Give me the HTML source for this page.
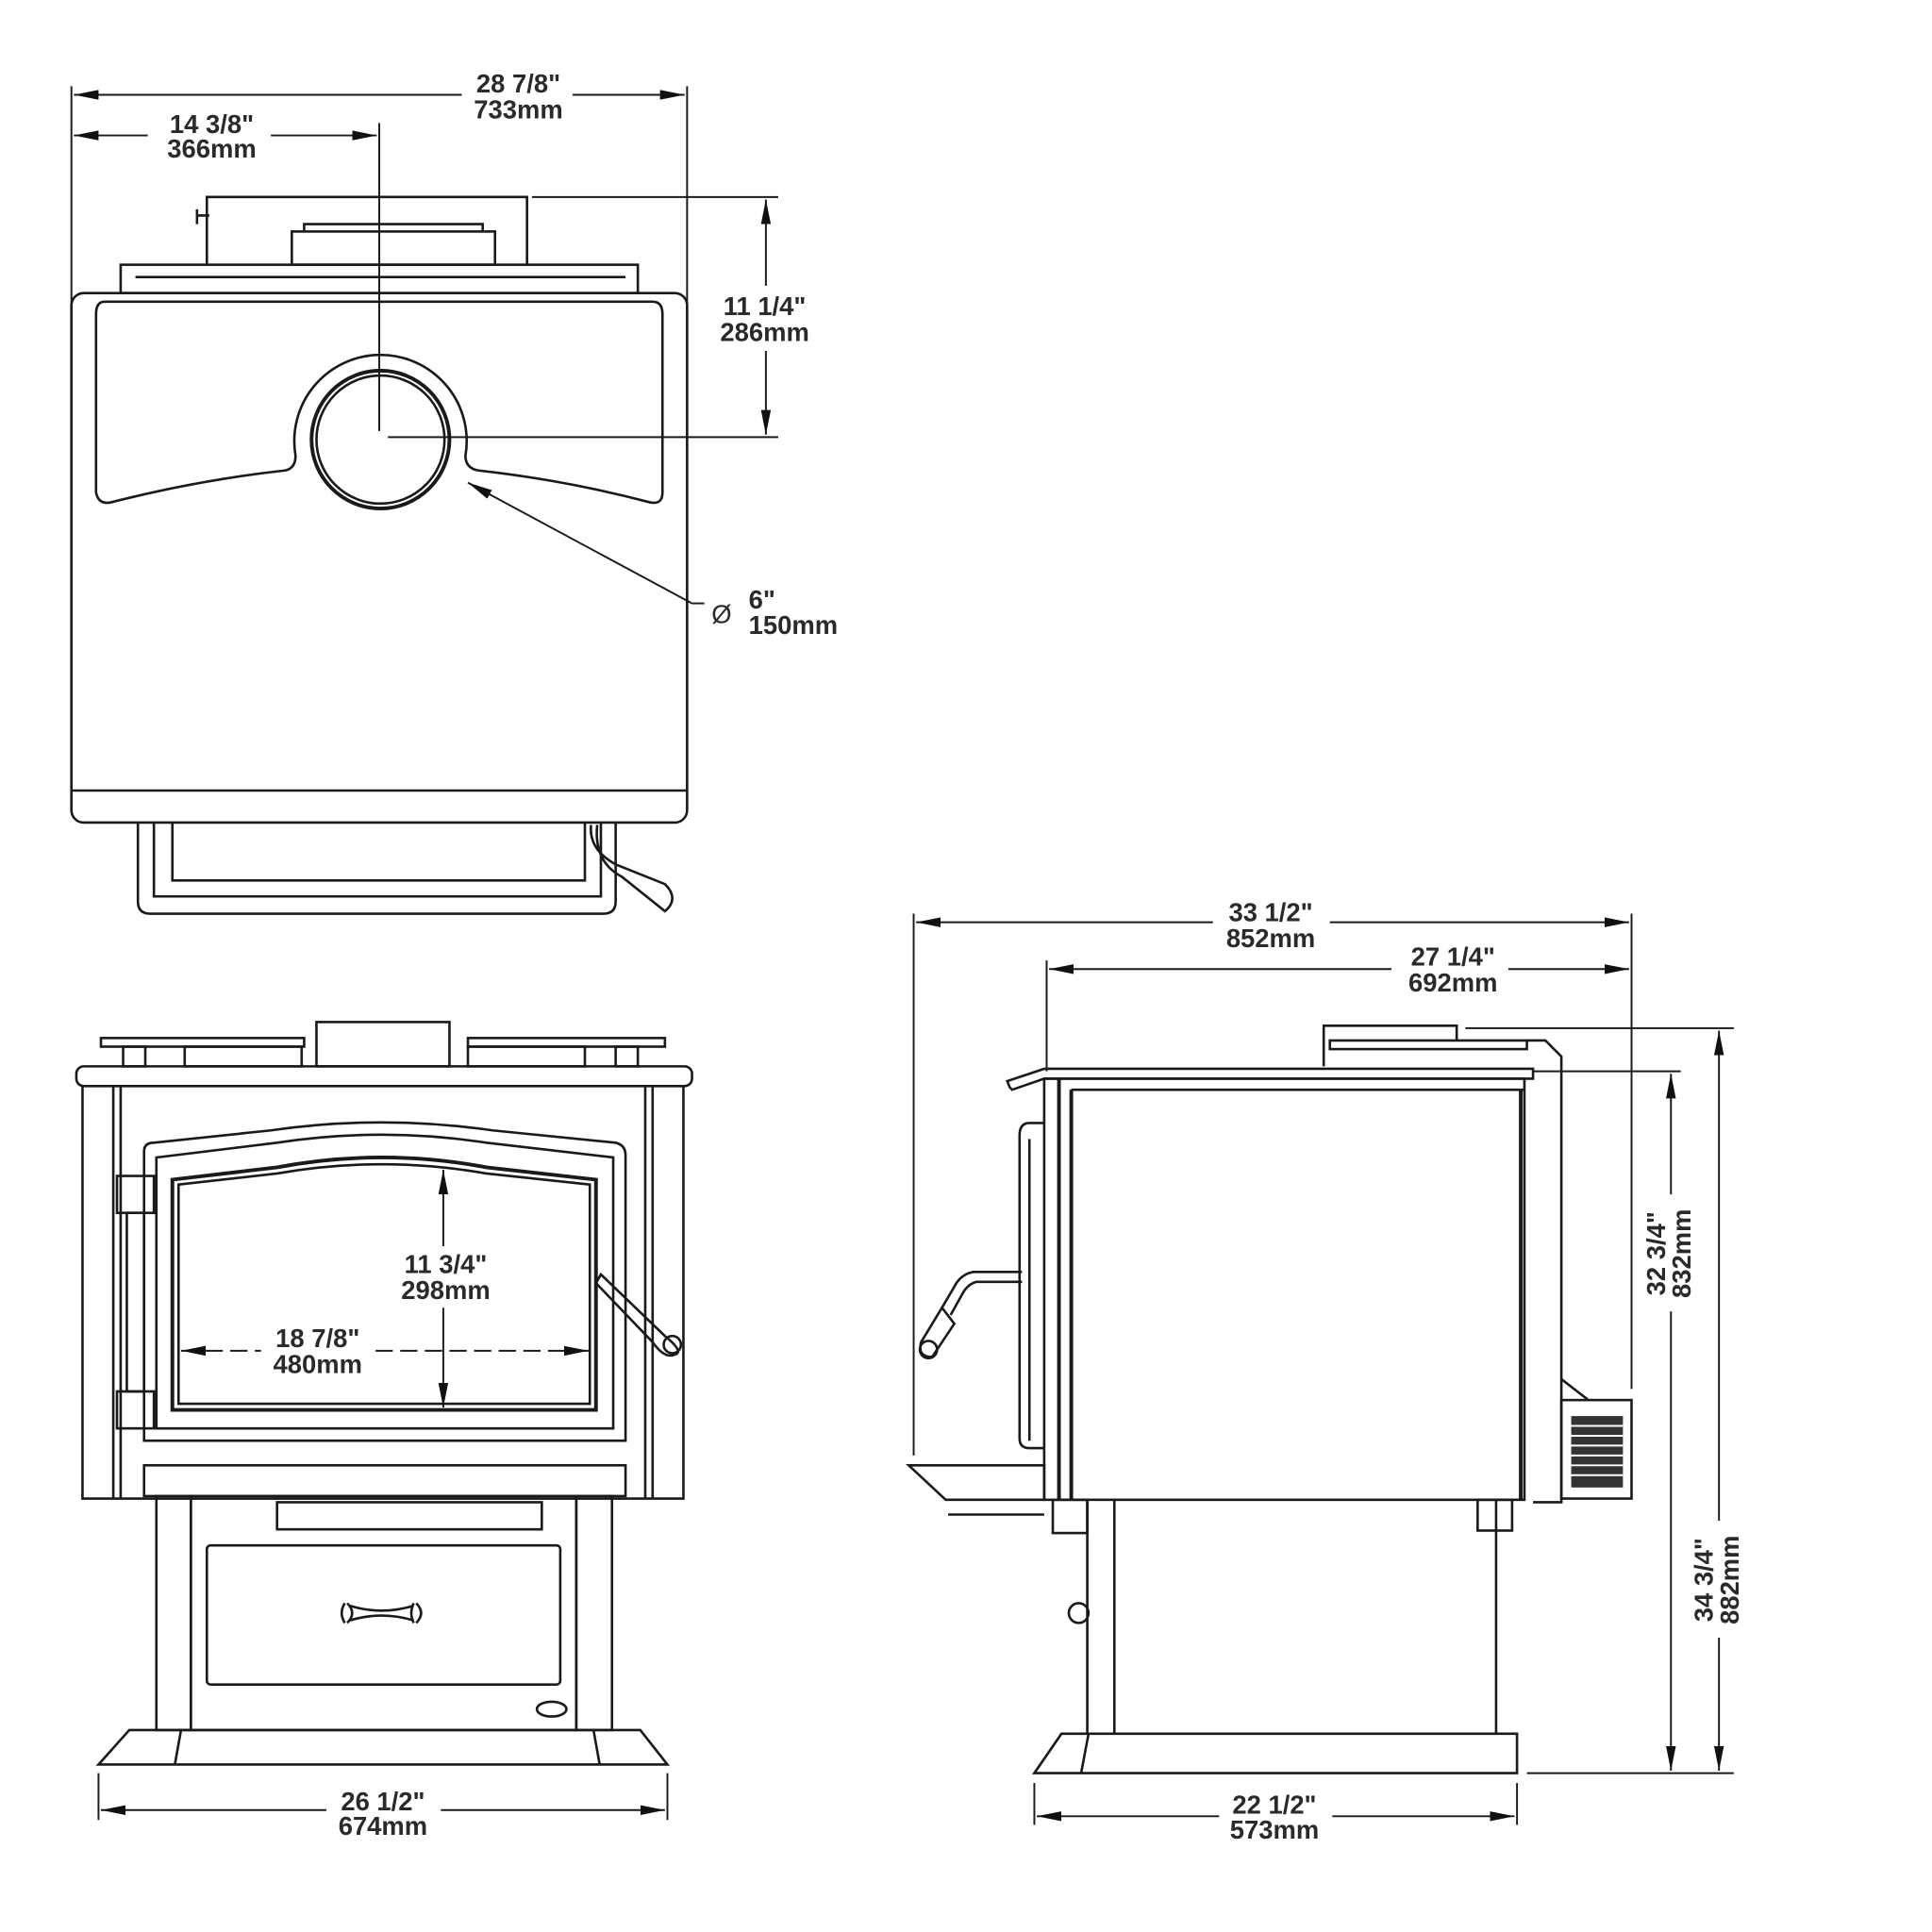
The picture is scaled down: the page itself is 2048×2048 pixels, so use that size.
<!DOCTYPE html>
<html><head><meta charset="utf-8"><style>
html,body{margin:0;padding:0;background:#fff;}
svg{display:block;}
text{font-family:"Liberation Sans",Arial,sans-serif;font-weight:bold;fill:#2a2a2a;font-size:21px;text-anchor:middle;}
</style></head><body>
<svg width="2048" height="2048" viewBox="0 0 1569 1569" xmlns="http://www.w3.org/2000/svg">
<defs>
<marker id="a" viewBox="0 0 20 8" refX="20" refY="4" markerWidth="20" markerHeight="8" markerUnits="userSpaceOnUse" orient="auto-start-reverse"><path d="M0,0 L20,4 L0,8 z" fill="#111"/></marker>
</defs>
<g fill="none" stroke="#1a1a1a" stroke-width="2">
<!-- ===== TOP VIEW ===== -->
<line x1="58" y1="70" x2="58" y2="660" stroke-width="1.5"/>
<line x1="558" y1="70" x2="558" y2="660" stroke-width="1.5"/>
<line x1="60" y1="77" x2="375" y2="77" stroke-width="1.5" marker-start="url(#a)"/>
<line x1="465" y1="77" x2="556" y2="77" stroke-width="1.5" marker-end="url(#a)"/>
<line x1="60" y1="110" x2="120" y2="110" stroke-width="1.5" marker-start="url(#a)"/>
<line x1="220" y1="110" x2="306" y2="110" stroke-width="1.5" marker-end="url(#a)"/>
<line x1="308" y1="100" x2="308" y2="350" stroke-width="1.5"/>
<!-- back parts -->
<path d="M168,215 V160 H428 V215"/>
<path d="M160,175 h10 M160,170 v12"/>
<rect x="237" y="188" width="165" height="27"/>
<path d="M247,188 V182 H392 V188"/>
<rect x="98" y="215" width="420" height="23"/>
<line x1="110" y1="225" x2="508" y2="225"/>
<!-- body -->
<rect x="58" y="238" width="500" height="430" rx="10"/>
<line x1="58" y1="642" x2="558" y2="642"/>
<path d="M85,245 Q78,245 78,255 V400 Q80,410 90,408 Q160,390 232,382 Q240,380 240,370 A70,70 0 1 1 378,370 Q378,380 388,382 Q460,390 528,408 Q538,410 538,400 V255 Q538,245 530,245 Z"/>
<circle cx="309" cy="357" r="56" stroke-width="3"/>
<circle cx="309" cy="357" r="52"/>
<line x1="315" y1="355" x2="632" y2="355" stroke-width="1.5"/>
<line x1="432" y1="160" x2="632" y2="160" stroke-width="1.5"/>
<line x1="622" y1="162" x2="622" y2="232" stroke-width="1.5" marker-start="url(#a)"/>
<line x1="622" y1="285" x2="622" y2="353" stroke-width="1.5" marker-end="url(#a)"/>
<path d="M562,490 L380,392" stroke-width="1.5" marker-end="url(#a)"/>
<line x1="562" y1="490" x2="572" y2="490" stroke-width="1.5"/>
<!-- ash lip top view -->
<path d="M112,668 V732 Q112,742 122,742 H490 Q500,742 500,732 V668"/>
<path d="M125,668 V728 H488 V668"/>
<path d="M140,668 V715 H475 V668"/>
<path d="M480,670 Q478,690 500,702 L540,718 Q552,730 540,740 L505,712 Q482,700 485,670" stroke-width="2"/>
<!-- ===== FRONT VIEW ===== -->
<rect x="82" y="843" width="165" height="7"/>
<rect x="380" y="843" width="160" height="7"/>
<rect x="257" y="830" width="108" height="36"/>
<rect x="100" y="850" width="18" height="16"/>
<rect x="500" y="850" width="18" height="16"/>
<rect x="150" y="850" width="95" height="16"/>
<rect x="380" y="850" width="95" height="16"/>
<rect x="62" y="866" width="500" height="16" rx="6"/>
<path d="M67,882 V1217 H555 V882"/>
<line x1="92" y1="882" x2="92" y2="1217"/>
<line x1="98" y1="882" x2="98" y2="1217"/>
<line x1="524" y1="882" x2="524" y2="1217"/>
<line x1="530" y1="882" x2="530" y2="1217"/>
<path d="M117,1170 V935 Q117,928 125,928 L220,918 Q310,905 400,918 L500,928 Q508,930 508,938 V1170 Z"/>
<path d="M127,1160 V940 L225,928 Q310,915 395,928 L498,940 V1160 Z"/>
<path d="M140,1145 V958 L225,948 Q310,932 395,948 L484,958 V1145 Z" stroke-width="3"/>
<path d="M145,1140 V962 L225,953 Q310,938 395,953 L479,962 V1140 Z"/>
<rect x="95" y="955" width="30" height="30"/>
<rect x="95" y="1130" width="30" height="30"/>
<rect x="103" y="985" width="14" height="145"/>
<path d="M488,1035 L540,1085 Q556,1098 548,1100 Q540,1104 530,1090 L484,1042 Z"/>
<circle cx="546" cy="1092" r="7"/>
<rect x="117" y="1190" width="391" height="25"/>
<rect x="127" y="1215" width="28" height="190"/>
<rect x="468" y="1215" width="29" height="190"/>
<rect x="155" y="1215" width="313" height="190"/>
<rect x="225" y="1220" width="215" height="22"/>
<rect x="168" y="1255" width="287" height="113" rx="3"/>
<path d="M282,1302 Q290,1310 282,1318 M280,1302 Q275,1310 280,1318 M284,1304 Q310,1312 336,1304 M284,1316 Q310,1308 336,1316 M338,1302 Q346,1310 338,1318 M336,1302 Q332,1310 336,1318"/>
<ellipse cx="448" cy="1388" rx="12" ry="6"/>
<path d="M105,1405 H520 L542,1433 H80 Z"/>
<line x1="147" y1="1405" x2="142" y2="1433"/>
<line x1="482" y1="1405" x2="487" y2="1433"/>
<line x1="80" y1="1440" x2="80" y2="1478" stroke-width="1.5"/>
<line x1="542" y1="1440" x2="542" y2="1478" stroke-width="1.5"/>
<line x1="82" y1="1470" x2="265" y2="1470" stroke-width="1.5" marker-start="url(#a)"/>
<line x1="358" y1="1470" x2="540" y2="1470" stroke-width="1.5" marker-end="url(#a)"/>
<line x1="147" y1="1097" x2="212" y2="1097" stroke-width="1.5" marker-start="url(#a)" stroke-dasharray="14,6"/>
<line x1="305" y1="1097" x2="478" y2="1097" stroke-width="1.5" marker-end="url(#a)" stroke-dasharray="14,6"/>
<line x1="360" y1="950" x2="360" y2="1012" stroke-width="1.5" marker-start="url(#a)"/>
<line x1="360" y1="1062" x2="360" y2="1143" stroke-width="1.5" marker-end="url(#a)"/>
<!-- ===== SIDE VIEW ===== -->
<line x1="742" y1="742" x2="742" y2="1182" stroke-width="1.5"/>
<line x1="1325" y1="742" x2="1325" y2="1128" stroke-width="1.5"/>
<line x1="744" y1="749" x2="985" y2="749" stroke-width="1.5" marker-start="url(#a)"/>
<line x1="1080" y1="749" x2="1323" y2="749" stroke-width="1.5" marker-end="url(#a)"/>
<line x1="850" y1="780" x2="850" y2="870" stroke-width="1.5"/>
<line x1="852" y1="787" x2="1130" y2="787" stroke-width="1.5" marker-start="url(#a)"/>
<line x1="1225" y1="787" x2="1323" y2="787" stroke-width="1.5" marker-end="url(#a)"/>
<path d="M1075,866 V833 H1183 V845"/>
<rect x="1080" y="845" width="160" height="7"/>
<path d="M1240,845 H1255 L1268,858 V1220 H1245"/>
<path d="M820,883 L818,878 L848,868 H1245 V876 H848 L822,885 Z"/>
<rect x="848" y="876" width="390" height="342"/>
<line x1="860" y1="876" x2="860" y2="1218" stroke-width="3"/>
<line x1="870" y1="885" x2="870" y2="1218" stroke-width="3"/>
<line x1="870" y1="885" x2="1238" y2="885" stroke-width="2"/>
<line x1="1235" y1="885" x2="1235" y2="1218" stroke-width="3"/>
<path d="M848,912 H836 Q828,912 828,922 V1168 Q828,1176 836,1176 H848"/>
<line x1="836" y1="925" x2="836" y2="1170"/>
<path d="M830,1033 H790 Q780,1035 775,1045 L765,1062 M830,1041 H793 Q786,1043 782,1050 L772,1068"/>
<path d="M765,1062 L748,1090 Q745,1102 757,1102 L775,1075 Z"/>
<circle cx="754" cy="1096" r="7"/>
<path d="M738,1190 H848 V1218 H768 Z"/>
<line x1="770" y1="1230" x2="848" y2="1230"/>
<rect x="1268" y="1137" width="57" height="80"/>
<rect x="1276" y="1150" width="42" height="58" fill="#333" stroke="none"/>
<g stroke="#fff" stroke-width="1.5">
<line x1="1276" y1="1158" x2="1318" y2="1158"/><line x1="1276" y1="1166" x2="1318" y2="1166"/>
<line x1="1276" y1="1174" x2="1318" y2="1174"/><line x1="1276" y1="1182" x2="1318" y2="1182"/>
<line x1="1276" y1="1190" x2="1318" y2="1190"/><line x1="1276" y1="1198" x2="1318" y2="1198"/>
</g>
<path d="M1268,1120 L1290,1137"/>
<rect x="855" y="1218" width="28" height="27"/>
<rect x="1200" y="1218" width="28" height="25"/>
<path d="M883,1218 V1408 M905,1218 V1408 M1215,1218 V1408"/>
<circle cx="876" cy="1310" r="8"/>
<path d="M862,1408 H1232 V1440 H840 Z"/>
<line x1="884" y1="1408" x2="878" y2="1440"/>
<line x1="840" y1="1448" x2="840" y2="1482" stroke-width="1.5"/>
<line x1="1232" y1="1448" x2="1232" y2="1482" stroke-width="1.5"/>
<line x1="842" y1="1475" x2="990" y2="1475" stroke-width="1.5" marker-start="url(#a)"/>
<line x1="1082" y1="1475" x2="1230" y2="1475" stroke-width="1.5" marker-end="url(#a)"/>
<line x1="1190" y1="835" x2="1408" y2="835" stroke-width="1.5"/>
<line x1="1245" y1="870" x2="1365" y2="870" stroke-width="1.5"/>
<line x1="1240" y1="1440" x2="1408" y2="1440" stroke-width="1.5"/>
<line x1="1357" y1="872" x2="1357" y2="970" stroke-width="1.5" marker-start="url(#a)"/>
<line x1="1357" y1="1065" x2="1357" y2="1438" stroke-width="1.5" marker-end="url(#a)"/>
<line x1="1396" y1="837" x2="1396" y2="1235" stroke-width="1.5" marker-start="url(#a)"/>
<line x1="1396" y1="1330" x2="1396" y2="1438" stroke-width="1.5" marker-end="url(#a)"/>
</g>
<!-- texts -->
<text x="421" y="75">28 7/8"</text><text x="421" y="96">733mm</text>
<text x="172" y="108">14 3/8"</text><text x="172" y="128">366mm</text>
<text x="621" y="256">11 1/4"</text><text x="621" y="277">286mm</text>
<text x="586" y="506" style="font-weight:normal">Ø</text>
<text x="608" y="494" style="text-anchor:start">6"</text><text x="608" y="515" style="text-anchor:start">150mm</text>
<text x="362" y="1034">11 3/4"</text><text x="362" y="1055">298mm</text>
<text x="258" y="1094">18 7/8"</text><text x="258" y="1115">480mm</text>
<text x="311" y="1470">26 1/2"</text><text x="311" y="1490">674mm</text>
<text x="1032" y="748">33 1/2"</text><text x="1032" y="769">852mm</text>
<text x="1180" y="784">27 1/4"</text><text x="1180" y="805">692mm</text>
<text x="1035" y="1473">22 1/2"</text><text x="1035" y="1493">573mm</text>
<text transform="translate(1352,1018) rotate(-90)">32 3/4"</text>
<text transform="translate(1373,1018) rotate(-90)">832mm</text>
<text transform="translate(1391,1283) rotate(-90)">34 3/4"</text>
<text transform="translate(1412,1283) rotate(-90)">882mm</text>
</svg>
</body></html>
